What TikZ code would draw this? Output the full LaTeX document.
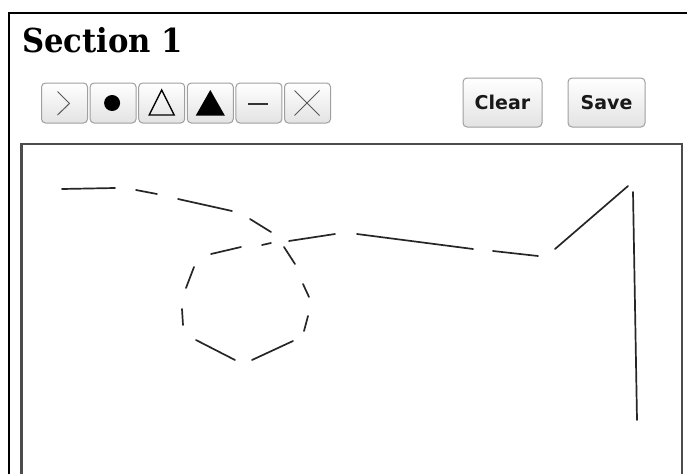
\documentclass[tikz,border=0pt]{standalone}
\usepackage{fontspec}
\setmainfont{DejaVu Serif}
\setsansfont{DejaVu Sans}
\newfontfamily\titlefont[FakeStretch=0.93]{DejaVu Serif}
\usetikzlibrary{positioning}

\tikzset{
  toolbtn/.style={draw=gray!75, line width=1pt, rounded corners=4pt,
    top color=white, bottom color=gray!22,
    minimum width=46pt, minimum height=40pt, inner sep=0pt},
  cmdbtn/.style={toolbtn, minimum height=49pt, text=black!90,
    font=\sffamily\bfseries\fontsize{19}{19}\selectfont},
  ink/.style={line width=1.7pt, black!85, line cap=round},
  icon/.style={line width=1pt, black!65},
}

\begin{document}
\begin{tikzpicture}[x=1pt,y=-1pt,node distance=1.6pt]
\useasboundingbox (0,0) rectangle (687,474);
% frames
\draw[line width=2pt] (9,474) -- (9,13) -- (687,13);
\draw[line width=2.5pt,black!70] (21.5,474) -- (21.5,144) -- (682,144) -- (682,474);
% title
\node[anchor=base west,inner sep=0pt,font=\titlefont\bfseries\fontsize{33}{33}\selectfont] (title) at (22,52) {Section 1};
% tool buttons
\node[toolbtn] (arrowbtn) at (64.5,103) {};
\node[toolbtn,right=of arrowbtn] (dotbtn) {};
\node[toolbtn,right=of dotbtn] (openbtn) {};
\node[toolbtn,right=of openbtn] (fillbtn) {};
\node[toolbtn,right=of fillbtn] (linebtn) {};
\node[toolbtn,right=of linebtn] (crossbtn) {};
% icons
\draw[icon] ([shift={(-7,-11.5)}]arrowbtn.center) -- ([shift={(5,0.5)}]arrowbtn.center) -- ([shift={(-7,12)}]arrowbtn.center);
\fill[black] ([shift={(-1,0)}]dotbtn.center) circle (8);
\draw[line width=1.4pt] ([shift={(-12.5,12)}]openbtn.center) -- ([shift={(12.5,12)}]openbtn.center) -- ([shift={(0,-13)}]openbtn.center) -- cycle;
\fill[black] ([shift={(-14.5,12.5)}]fillbtn.center) -- ([shift={(14.5,12.5)}]fillbtn.center) -- ([shift={(0,-13)}]fillbtn.center) -- cycle;
\draw[line width=1.4pt,black!80] ([shift={(-11,1)}]linebtn.center) -- ([shift={(9,1)}]linebtn.center);
\draw[icon] ([shift={(-13,-12.5)}]crossbtn.center) -- ([shift={(12,12.5)}]crossbtn.center);
\draw[icon] ([shift={(-13,12.5)}]crossbtn.center) -- ([shift={(12,-12.5)}]crossbtn.center);
% command buttons
\node[cmdbtn,minimum width=79pt] (clear) at (502.5,102.5) {Clear};
\node[cmdbtn,minimum width=77pt,right=25pt of clear] (save) {Save};
% sketch
\foreach \ax/\ay/\bx/\by in {62/189/115/188, 136/190/157/194, 178/199/232/211,
  250/219/271/232, 284/247/295/264, 303/284/309/297, 308/316/304/331,
  293/341/252/360, 235/360/196/340, 183/325/182/309, 186/288/194/267,
  211/254/241/247, 262/245/271/243, 289/241/335/234, 357/234/473/249,
  493/251/538/256, 555/249/628/186, 633/192/637/420}
  \draw[ink] (\ax,\ay) -- (\bx,\by);
\end{tikzpicture}
\end{document}
